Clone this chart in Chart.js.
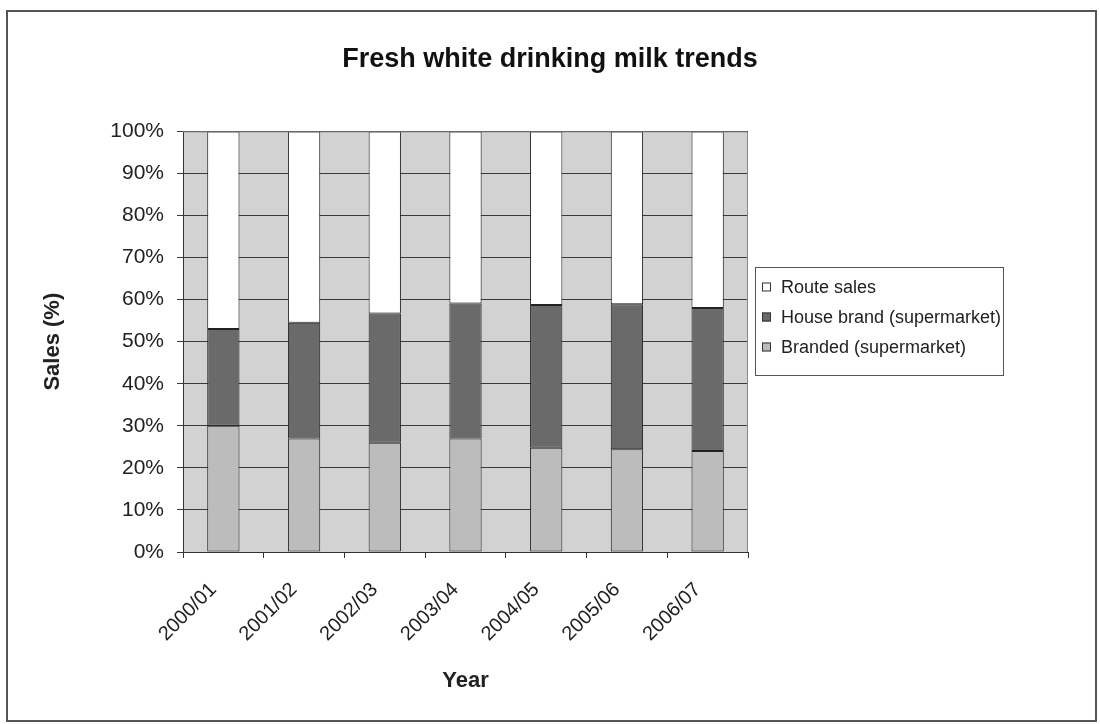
<!DOCTYPE html>
<html>
<head>
<meta charset="utf-8">
<script src="https://cdn.jsdelivr.net/npm/chart.js@4/dist/chart.umd.min.js"></script>
<style>
  html, body { margin: 0; padding: 0; background: #fff; }
  #wrap { width: 1100px; height: 724px; position: relative; }
</style>
</head>
<body>
<div id="wrap"><canvas id="milkChart"></canvas></div>
<script>
// data
const years = ["2000/01", "2001/02", "2002/03", "2003/04", "2004/05", "2005/06", "2006/07"];
const branded = [30, 27, 26, 27, 24.8, 24.4, 24];
const houseBrand = [23, 27.5, 30.7, 32.1, 33.9, 34.5, 34];
const routeSales = years.map((y, i) => +(100 - branded[i] - houseBrand[i]).toFixed(1));
const yTicks = [0, 10, 20, 30, 40, 50, 60, 70, 80, 90, 100];

const FONT = "'Liberation Sans', Arial, sans-serif";

// page frame + grey plot background
const backdrop = {
  id: "backdrop",
  beforeDraw(chart) {
    const { ctx, chartArea: a } = chart;
    ctx.save();
    ctx.strokeStyle = "#555";
    ctx.lineWidth = 2;
    ctx.strokeRect(7, 11, 1089, 710);
    ctx.fillStyle = "#d2d2d2";
    ctx.fillRect(a.left, a.top, a.right - a.left, a.bottom - a.top);
    ctx.restore();
  },
  afterDatasetsDraw(chart) {
    const { ctx, chartArea: a } = chart;
    ctx.save();
    ctx.strokeStyle = "#888";
    ctx.lineWidth = 1;
    ctx.beginPath();
    ctx.moveTo(a.left, a.top + 0.5);
    ctx.lineTo(a.right - 0.5, a.top + 0.5);
    ctx.lineTo(a.right - 0.5, a.bottom);
    ctx.stroke();
    ctx.restore();
  }
};

// boxed legend at the right, in the order of the reference
const boxLegend = {
  id: "boxLegend",
  afterDraw(chart) {
    const { ctx, chartArea: a } = chart;
    const sets = chart.data.datasets.slice().reverse();
    const left = a.right + 7, top = 267, width = 248, rowH = 30;
    const height = sets.length * rowH + 18;
    ctx.save();
    ctx.strokeStyle = "#555";
    ctx.lineWidth = 1;
    ctx.strokeRect(left + 0.5, top + 0.5, width, height);
    ctx.font = "18px " + FONT;
    ctx.textBaseline = "middle";
    sets.forEach((ds, i) => {
      const cy = top + 20 + i * rowH;
      ctx.fillStyle = ds.backgroundColor;
      ctx.fillRect(left + 7, cy - 4.5, 9, 9);
      ctx.strokeStyle = "#333";
      ctx.strokeRect(left + 7.5, cy - 4, 8, 8);
      ctx.fillStyle = "#222";
      ctx.fillText(ds.label, left + 26, cy + 1);
    });
    ctx.restore();
  }
};

new Chart(document.getElementById("milkChart"), {
  type: "bar",
  data: {
    labels: years,
    datasets: [
      { label: "Branded (supermarket)", data: branded, backgroundColor: "#bcbcbc" },
      { label: "House brand (supermarket)", data: houseBrand, backgroundColor: "#6a6a6a" },
      { label: "Route sales", data: routeSales, backgroundColor: "#ffffff" }
    ]
  },
  options: {
    responsive: true,
    maintainAspectRatio: false,
    animation: false,
    datasets: {
      bar: {
        borderColor: "#222",
        borderWidth: 1,
        borderSkipped: false,
        categoryPercentage: 1,
        barPercentage: 0.4
      }
    },
    layout: { padding: { left: 10, right: 10, top: 0, bottom: 0 } },
    plugins: {
      legend: { display: false },
      tooltip: { enabled: false },
      title: {
        display: true,
        text: "Fresh white drinking milk trends",
        color: "#111",
        font: { family: FONT, size: 27, weight: "bold" },
        padding: { top: 43, bottom: 56 }
      }
    },
    scales: {
      x: {
        stacked: true,
        afterFit: s => { s.height = 172; },
        grid: { display: true, drawOnChartArea: false, offset: true, tickLength: 6, color: "#333" },
        border: { color: "#333", width: 1 },
        ticks: {
          autoSkip: false,
          minRotation: 45,
          maxRotation: 45,
          padding: 20,
          labelOffset: -10,
          color: "#222",
          font: { family: FONT, size: 20 }
        },
        title: {
          display: true,
          text: "Year",
          color: "#222",
          font: { family: FONT, size: 22, weight: "bold" },
          padding: { top: 0, bottom: 30 }
        }
      },
      y: {
        stacked: true,
        min: 0,
        max: 100,
        afterFit: s => { s.width = 173; },
        afterBuildTicks: s => { s.ticks = yTicks.map(v => ({ value: v })); },
        grid: { color: "#3a3a3a", lineWidth: 1, tickLength: 6 },
        border: { color: "#333", width: 1 },
        ticks: {
          padding: 13,
          color: "#222",
          font: { family: FONT, size: 21 },
          callback: v => v + "%"
        },
        title: {
          display: true,
          text: "Sales (%)",
          color: "#222",
          font: { family: FONT, size: 22, weight: "bold" },
          padding: { top: 30, bottom: 0 }
        }
      },
      // empty right-hand scale that keeps room for the legend box
      legendRoom: {
        type: "linear",
        position: "right",
        display: true,
        min: 0,
        max: 100,
        afterFit: s => { s.width = 342; },
        grid: { display: false, drawOnChartArea: false },
        border: { display: false },
        ticks: { display: false }
      }
    }
  },
  plugins: [backdrop, boxLegend]
});
</script>
</body>
</html>
